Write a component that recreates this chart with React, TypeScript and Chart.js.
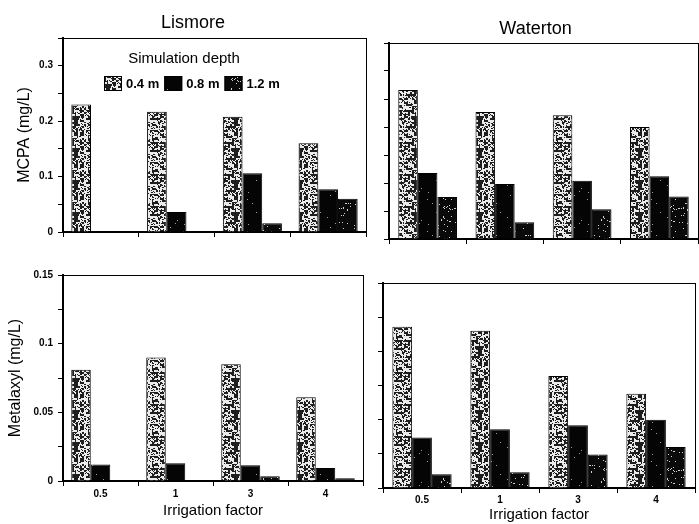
import React, { useEffect, useRef } from 'react';
import { Chart, registerables } from 'chart.js';

Chart.register(...registerables);

// ---------- data ----------
const categories = ['0.5', '1', '3', '4'];
const depthLabels = ['0.4 m', '0.8 m', '1.2 m'];
const legendTitle = 'Simulation depth';
const siteNames = ['Lismore', 'Waterton'];
const yTitles = ['MCPA (mg/L)', 'Metalaxyl (mg/L)'];
const xTitle = 'Irrigation factor';

const lismoreMCPA04 = [0.23, 0.217, 0.208, 0.16];
const lismoreMCPA08 = [0, 0.036, 0.106, 0.077];
const lismoreMCPA12 = [0, 0, 0.016, 0.06];

const watertonMCPA04 = [0.266, 0.227, 0.221, 0.2];
const watertonMCPA08 = [0.118, 0.098, 0.104, 0.112];
const watertonMCPA12 = [0.075, 0.03, 0.053, 0.076];

const lismoreMetalaxyl04 = [0.081, 0.09, 0.085, 0.061];
const lismoreMetalaxyl08 = [0.012, 0.013, 0.0115, 0.0095];
const lismoreMetalaxyl12 = [0, 0, 0.0035, 0.002];

const watertonMetalaxyl04 = [0.118, 0.115, 0.082, 0.069];
const watertonMetalaxyl08 = [0.037, 0.043, 0.046, 0.05];
const watertonMetalaxyl12 = [0.01, 0.0116, 0.0246, 0.03];

const mcpaMax = 0.35;
const mcpaStep = 0.05;
const mcpaLabelEvery = 0.1;
const metalaxylMax = 0.15;
const metalaxylStep = 0.025;
const metalaxylLabelEvery = 0.05;

// ---------- styling helpers ----------
const FONT = "'Liberation Sans', Arial, Helvetica, sans-serif";
Chart.defaults.font.family = FONT;
Chart.defaults.color = '#000';

function hash(x: number, y: number, s: number) {
  let n = Math.imul(x, 374761393) + Math.imul(y, 668265263) + Math.imul(s, 1442695041);
  n = Math.imul(n ^ (n >>> 13), 1274126177);
  n = n ^ (n >>> 16);
  return ((n >>> 0) % 1000) / 1000;
}

function makePattern(kind: number): CanvasPattern | string {
  const size = 32;
  const c = document.createElement('canvas');
  c.width = size;
  c.height = size;
  const ctx = c.getContext('2d');
  if (!ctx) return '#888';
  const img = ctx.createImageData(size, size);
  for (let y = 0; y < size; y++) {
    for (let x = 0; x < size; x++) {
      let v: number;
      if (kind === 0) {
        const h1 = hash(x >> 1, y >> 1, 7);
        const h2 = hash(x, y, 1);
        v = (h1 < 0.35 || h2 < 0.2) ? 30 : 235;
      } else if (kind === 1) {
        v = hash(x, y, 2) < 0.01 ? 160 : 5;
      } else {
        v = hash(x, y, 3) < 0.035 ? 210 : 10;
      }
      const i = (y * size + x) * 4;
      img.data[i] = v;
      img.data[i + 1] = v;
      img.data[i + 2] = v;
      img.data[i + 3] = 255;
    }
  }
  ctx.putImageData(img, 0, 0);
  return ctx.createPattern(c, 'repeat') || '#888';
}

const depthLegendPlugin = {
  id: 'depthLegend',
  afterDraw(chart: any) {
    const { ctx, chartArea } = chart;
    ctx.save();
    ctx.fillStyle = '#000';
    ctx.font = `15px ${FONT}`;
    ctx.textAlign = 'center';
    ctx.textBaseline = 'middle';
    ctx.fillText(legendTitle, chartArea.left + 121, chartArea.top + 21);
    ctx.font = `bold 13px ${FONT}`;
    ctx.textAlign = 'left';
    let x = chartArea.left + 41;
    const yTop = chartArea.top + 38;
    chart.data.datasets.forEach((ds: any) => {
      ctx.fillStyle = ds.backgroundColor;
      ctx.fillRect(x, yTop, 18, 15);
      ctx.strokeStyle = '#000';
      ctx.lineWidth = 1;
      ctx.strokeRect(x + 0.5, yTop + 0.5, 17, 14);
      ctx.fillStyle = '#000';
      ctx.fillText(ds.label, x + 22, yTop + 8);
      x += 22 + ctx.measureText(ds.label).width + 5;
    });
    ctx.restore();
  },
};

type Panel = {
  left: number;
  top: number;
  width: number;
  height: number;
  yWidth: number;
  xHeight: number;
  y2Width: number;
  padTop: number;
  title?: { text: string; padTop: number; padBottom: number };
  yTitle?: { text: string; padTop: number };
  xTitleCfg?: { text: string; padBottom: number };
  yMax: number;
  yStep: number;
  labelEvery: number;
  yLabels: boolean;
  xLabels: boolean;
  xTickPad: number;
  catPct: number;
  series: number[][];
  legend?: boolean;
};

const panels: Panel[] = [
  {
    left: 0, top: 0, width: 386, height: 262,
    yWidth: 63, xHeight: 30, y2Width: 20, padTop: 0,
    title: { text: siteNames[0], padTop: 12.2, padBottom: 4.2 },
    yTitle: { text: yTitles[0], padTop: 15.4 },
    yMax: mcpaMax, yStep: mcpaStep, labelEvery: mcpaLabelEvery,
    yLabels: true, xLabels: false, xTickPad: 2, catPct: 0.78,
    series: [lismoreMCPA04, lismoreMCPA08, lismoreMCPA12],
    legend: true,
  },
  {
    left: 372, top: 0, width: 327, height: 262,
    yWidth: 17, xHeight: 23, y2Width: 1, padTop: 0,
    title: { text: siteNames[1], padTop: 18.2, padBottom: 3.2 },
    yMax: mcpaMax, yStep: mcpaStep, labelEvery: mcpaLabelEvery,
    yLabels: false, xLabels: false, xTickPad: 2, catPct: 0.76,
    series: [watertonMCPA04, watertonMCPA08, watertonMCPA12],
  },
  {
    left: 0, top: 262, width: 372, height: 262,
    yWidth: 63, xHeight: 43, y2Width: 9, padTop: 13,
    yTitle: { text: yTitles[1], padTop: 5.9 },
    xTitleCfg: { text: xTitle, padBottom: 4 },
    yMax: metalaxylMax, yStep: metalaxylStep, labelEvery: metalaxylLabelEvery,
    yLabels: true, xLabels: true, xTickPad: 2, catPct: 0.78,
    series: [lismoreMetalaxyl04, lismoreMetalaxyl08, lismoreMetalaxyl12],
  },
  {
    left: 372, top: 262, width: 327, height: 262,
    yWidth: 11, xHeight: 36, y2Width: 4, padTop: 21,
    xTitleCfg: { text: xTitle, padBottom: 0 },
    yMax: metalaxylMax, yStep: metalaxylStep, labelEvery: metalaxylLabelEvery,
    yLabels: false, xLabels: true, xTickPad: 1, catPct: 0.76,
    series: [watertonMetalaxyl04, watertonMetalaxyl08, watertonMetalaxyl12],
  },
];

function PanelChart({ p }: { p: Panel }) {
  const ref = useRef<HTMLCanvasElement | null>(null);
  useEffect(() => {
    if (!ref.current) return;
    const fills = [makePattern(0), makePattern(1), makePattern(2)];
    const fmt = (v: number) => {
      const r = Math.round(v * 1000) / 1000;
      const k = Math.round(r / p.labelEvery * 1000) / 1000;
      return Math.abs(k - Math.round(k)) < 1e-6 ? String(r) : '';
    };
    const chart = new Chart(ref.current, {
      type: 'bar',
      data: {
        labels: categories,
        datasets: depthLabels.map((label, i) => ({
          label,
          data: p.series[i],
          backgroundColor: fills[i] as any,
          borderColor: '#000',
          borderWidth: 1,
          borderSkipped: 'start',
          categoryPercentage: p.catPct,
          barPercentage: 1,
        })),
      },
      options: {
        animation: false,
        responsive: false,
        maintainAspectRatio: false,
        devicePixelRatio: 1,
        layout: { padding: { left: 0, right: 0, top: p.padTop, bottom: 0 } },
        plugins: {
          legend: { display: false },
          tooltip: { enabled: false },
          title: p.title
            ? {
                display: true,
                text: p.title.text,
                color: '#000',
                font: { size: 18, weight: 'normal', family: FONT },
                padding: { top: p.title.padTop, bottom: p.title.padBottom },
              }
            : { display: false },
        },
        scales: {
          x: {
            type: 'category',
            position: 'bottom',
            offset: true,
            grid: { display: true, drawOnChartArea: false, drawTicks: true, tickLength: 5, color: '#000', offset: true },
            border: { display: true, color: '#000', width: 2 },
            ticks: {
              display: p.xLabels,
              color: '#000',
              font: { size: 10, weight: 'bold', family: FONT },
              padding: p.xTickPad,
              maxRotation: 0,
              autoSkip: false,
            },
            title: p.xTitleCfg
              ? {
                  display: true,
                  text: p.xTitleCfg.text,
                  color: '#000',
                  font: { size: 15, family: FONT },
                  padding: { top: 0, bottom: p.xTitleCfg.padBottom },
                }
              : { display: false },
            afterFit: (s: any) => {
              s.height = p.xHeight;
            },
          },
          y: {
            type: 'linear',
            position: 'left',
            min: 0,
            max: p.yMax,
            grid: { display: true, drawOnChartArea: false, drawTicks: true, tickLength: 5, color: '#000' },
            border: { display: true, color: '#000', width: 2 },
            ticks: {
              display: p.yLabels,
              stepSize: p.yStep,
              color: '#000',
              font: { size: 10, weight: 'bold', family: FONT },
              padding: 5,
              callback: (v: any) => fmt(Number(v)),
            },
            title: p.yTitle
              ? {
                  display: true,
                  text: p.yTitle.text,
                  color: '#000',
                  font: { size: 16, family: FONT },
                  padding: { top: p.yTitle.padTop, bottom: 0 },
                }
              : { display: false },
            afterFit: (s: any) => {
              s.width = p.yWidth;
            },
          },
          x2: {
            type: 'linear',
            position: 'top',
            display: true,
            grid: { display: false },
            ticks: { display: false },
            border: { display: true, color: '#000', width: 1 },
            afterFit: (s: any) => {
              s.height = 0;
            },
          },
          y2: {
            type: 'linear',
            position: 'right',
            display: true,
            grid: { display: false },
            ticks: { display: false },
            border: { display: true, color: '#000', width: 1 },
            afterFit: (s: any) => {
              s.width = p.y2Width;
            },
          },
        },
      } as any,
      plugins: p.legend ? [depthLegendPlugin] : [],
    });
    return () => chart.destroy();
  }, [p]);
  return (
    <canvas
      ref={ref}
      width={p.width}
      height={p.height}
      style={{ position: 'absolute', left: p.left, top: p.top, width: p.width, height: p.height }}
    />
  );
}

export default function App() {
  return (
    <div style={{ position: 'absolute', left: 0, top: 0, width: 699, height: 524, background: '#fff', overflow: 'hidden' }}>
      {panels.map((p, i) => (
        <PanelChart key={i} p={p} />
      ))}
    </div>
  );
}
